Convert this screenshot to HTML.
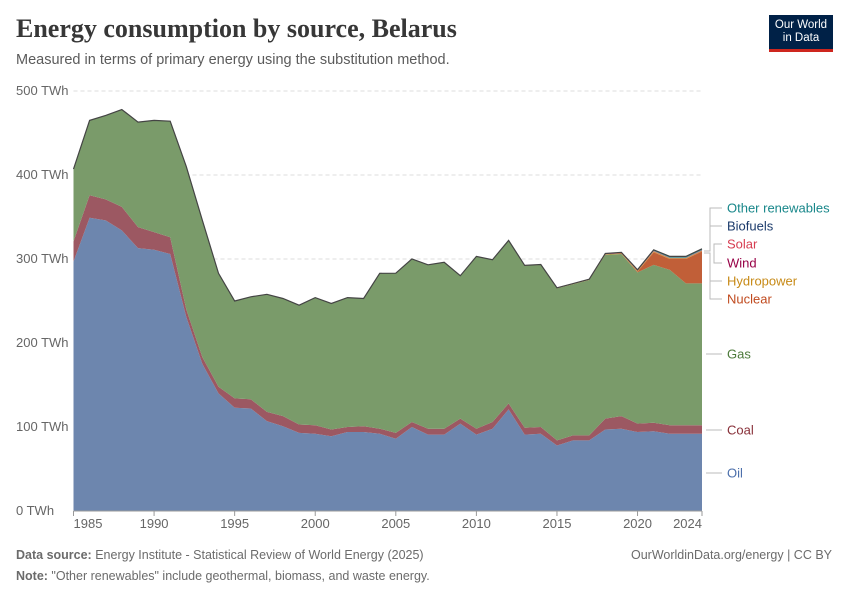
<!DOCTYPE html>
<html><head><meta charset="utf-8"><style>
body{margin:0;width:850px;height:600px;background:#fff;font-family:"Liberation Sans",sans-serif;overflow:hidden;position:relative}
.t{position:absolute;white-space:nowrap}
</style></head><body>
<div class="t" style="left:16px;top:14px;font-family:'Liberation Serif',serif;font-weight:bold;font-size:26px;color:#373737">Energy consumption by source, Belarus</div>
<div class="t" style="left:16px;top:52px;font-size:14.5px;color:#5b5b5b">Measured in terms of primary energy using the substitution method.</div>
<div style="position:absolute;left:769px;top:15px;width:64px;height:37px;background:#002147;border-bottom:3px solid #ce261e;color:#fff;font-size:11.5px;line-height:13px;text-align:center;padding-top:4px;box-sizing:border-box">Our World<br>in Data</div>
<svg id="c" width="850" height="600" style="position:absolute;left:0;top:0"></svg>
<div class="t" style="left:16px;top:548px;font-size:12.5px;color:#6b6b6b"><b>Data source:</b> Energy Institute - Statistical Review of World Energy (2025)</div>
<div class="t" style="right:18px;top:548px;font-size:12.5px;color:#6b6b6b">OurWorldinData.org/energy | CC BY</div>
<div class="t" style="left:16px;top:569px;font-size:12.5px;color:#6b6b6b"><b>Note:</b> "Other renewables" include geothermal, biomass, and waste energy.</div>
<script>
const years=[];for(let y=1985;y<=2024;y++)years.push(y);
const oil=[297,349,346,334,313,311,306,231,175,140,123,122,107,101,93,92,89,94,94,92,86,100,91,91,104,91,98,121,91,92,78,84,84,97,98,94,95,92,92,92];
const coal=[24,27,25,28,25,21,20,9,8,8,11,11,11,12,10,10,8,6,7,6,7,6,7,7,6,7,8,7,8,8,6,6,6,13,15,10,10,10,10,10];
const gas=[86,89,100,116,125,133,138,170,163,135,116,122,140,140,142,152,150,154,152,185,190,194,195,198,170,205,193,194,193,193,181,180,185,195,193,180,188,185,169,169];
const nuclear=[0,0,0,0,0,0,0,0,0,0,0,0,0,0,0,0,0,0,0,0,0,0,0,0,0,0,0,0,0,0,0,0,0,0,0,1,15,13,29,38];
const hydro=[0,0,0,0,0,0,0,0,0,0,0,0,0,0,0,0,0,0,0,0,0.1,0.1,0.1,0.1,0.1,0.1,0.1,0.1,0.3,0.3,0.3,0.3,0.3,0.7,0.7,0.8,0.9,0.8,0.8,0.8];
const wind=[0,0,0,0,0,0,0,0,0,0,0,0,0,0,0,0,0,0,0,0,0,0,0,0,0,0,0,0,0,0,0.1,0.1,0.2,0.3,0.4,0.4,0.4,0.4,0.4,0.4];
const solar=[0,0,0,0,0,0,0,0,0,0,0,0,0,0,0,0,0,0,0,0,0,0,0,0,0,0,0,0,0,0,0.1,0.1,0.2,0.3,0.4,0.4,0.4,0.4,0.4,0.4];
const biofuels=[0,0,0,0,0,0,0,0,0,0,0,0,0,0,0,0,0,0,0,0,0,0,0,0,0,0,0,0,0,0,0,0,0,0,0,0,0,0,0,0];
const otherRen=[0,0,0,0,0,0,0,0,0,0,0,0,0,0,0,0,0,0,0,0,0,0,0,0,0,0,0.1,0.1,0.1,0.1,0.2,0.2,0.2,0.3,0.3,0.5,1.2,1.5,1.5,1.5];
const yTicks=[0,100,200,300,400,500];
const xTicks=[1985,1990,1995,2000,2005,2010,2015,2020,2024];
const series=[["oil",oil,"#6d86ae"],["coal",coal,"#9c5862"],["gas",gas,"#7a9b6a"],["nuclear",nuclear,"#c15f38"],["hydro",hydro,"#d19a30"],["wind",wind,"#a0285a"],["solar",solar,"#d94a5a"],["biofuels",biofuels,"#2a4a7a"],["other-renewables",otherRen,"#3a9a9a"]];
const X0=73.5,X1=702,Y0=511,Y1=91;
const xs=y=>X0+(y-1985)/(2024-1985)*(X1-X0);
const ys=v=>Y0-v/500*(Y0-Y1);
const svg=document.getElementById('c');const NS='http://www.w3.org/2000/svg';
function mk(t,a){const e=document.createElementNS(NS,t);for(const k in a)e.setAttribute(k,a[k]);svg.appendChild(e);return e;}
yTicks.forEach(v=>{
 if(v>0){const g=mk('line',{x1:X0,x2:X1,y1:ys(v),y2:ys(v),stroke:'#ddd','stroke-dasharray':'4,3'});
 
 }
 const t=mk('text',{x:16,y:ys(v)+4,'font-size':13,fill:'#666'});t.textContent=v+' TWh';
 
 
});
let base=years.map(()=>0);
series.forEach(([n,d,c])=>{
 const top=base.map((b,i)=>b+d[i]);
 let p=years.map((y,i)=>(i?'L':'M')+xs(y).toFixed(1)+','+ys(top[i]).toFixed(1)).join('');
 for(let i=years.length-1;i>=0;i--)p+='L'+xs(years[i]).toFixed(1)+','+ys(base[i]).toFixed(1);
 const a=mk('path',{d:p+'Z',fill:c});
 
 
 base=top;
});
const tl=mk('path',{d:years.map((y,i)=>(i?'L':'M')+xs(y).toFixed(1)+','+ys(base[i]).toFixed(1)).join(''),fill:'none',stroke:'#444','stroke-width':1.2});


const ax=mk('line',{x1:X0,x2:X1,y1:Y0,y2:Y0,stroke:'#999'});


xTicks.forEach(y=>{
 const tk=mk('line',{x1:xs(y),x2:xs(y),y1:Y0,y2:Y0+5,stroke:'#999'});
 
 
 const anc=y===1985?'start':(y===2024?'end':'middle');
 const t=mk('text',{x:y===1985?X0:(y===2024?X1:xs(y)),y:Y0+17,'font-size':13,fill:'#666','text-anchor':anc});t.textContent=y;
 
 
});
const leg=[["Other renewables",208,"#18878a"],["Biofuels",226,"#1b3a6b"],["Solar",244,"#d73c50"],["Wind",263,"#970046"],["Hydropower",281,"#c78a17"],["Nuclear",299,"#c04a1e"],["Gas",354,"#4c7a3a"],["Coal",430,"#883039"],["Oil",473,"#4c6fab"]];
leg.forEach(([n,y,c])=>{
 const t=mk('text',{x:727,y:y+4.5,'font-size':13,fill:c});t.textContent=n;
 
 
});
const conn=mk('path',{d:'M706,354H722M706,430H722M706,473H722M704,251H710V208H722M710,226H722M714,251V244H722M714,251V263H722M704,253H710V299H722M710,281H722',fill:'none',stroke:'#bbb'});


</script>
</body></html>
